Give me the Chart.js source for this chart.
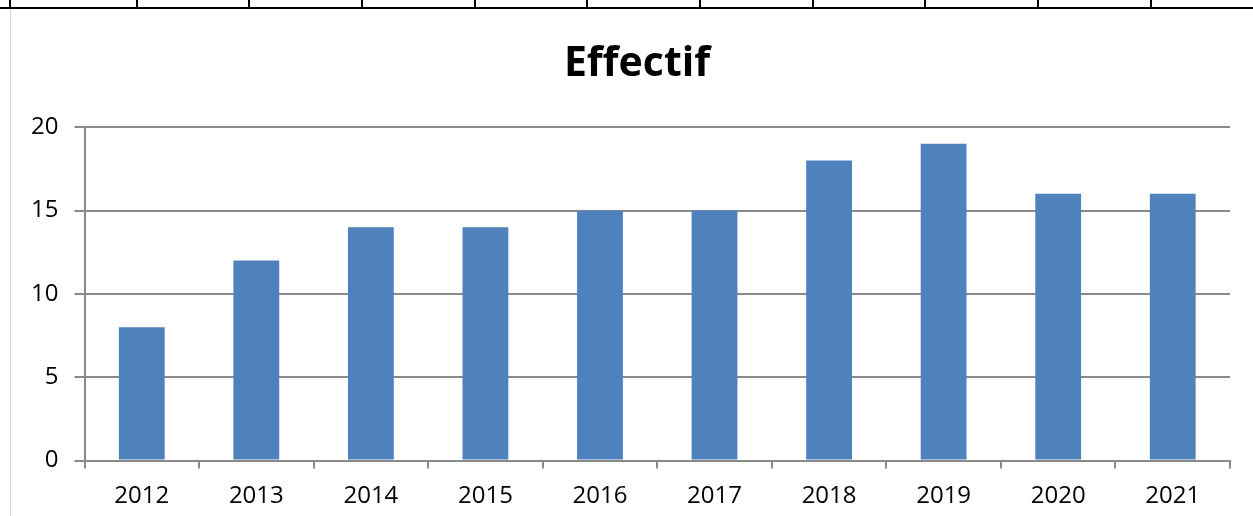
<!DOCTYPE html>
<html>
<head>
<meta charset="utf-8">
<script src="https://cdn.jsdelivr.net/npm/chart.js@4"></script>
<style>
  html, body { margin: 0; padding: 0; background: #fff; width: 1253px; height: 516px; overflow: hidden; }
  #sheet { position: absolute; left: 0; top: 0; width: 1253px; height: 9px; display: flex; }
  #sheet div { box-sizing: border-box; height: 9px; border-bottom: 2px solid #000; border-right: 2px solid #000; }
  #leftline { position: absolute; left: 10px; top: 9px; width: 1px; height: 507px; background: #d4d4d4; }
  #wrap { position: absolute; left: 0; top: 0; width: 1253px; height: 516px; }
</style>
</head>
<body>
<div id="sheet"></div>
<div id="leftline"></div>
<div id="wrap"><canvas id="c" width="1253" height="516"></canvas></div>
<script>
const categories = ["2012", "2013", "2014", "2015", "2016", "2017", "2018", "2019", "2020", "2021"];
const effectif = [8, 12, 14, 14, 15, 15, 18, 19, 16, 16];
const yTicks = [0, 5, 10, 15, 20];
const chartTitle = "Effectif";

// spreadsheet cell strip at the top (decoration)
const cellEdges = [0, 11, 138, 250, 363, 476, 588, 701, 814, 926, 1039, 1152, 1253];
const sheet = document.getElementById('sheet');
for (let i = 1; i < cellEdges.length; i++) {
  const d = document.createElement('div');
  d.style.width = (cellEdges[i] - cellEdges[i - 1]) + 'px';
  if (i === cellEdges.length - 1) d.style.borderRight = 'none';
  sheet.appendChild(d);
}

// shift the title box so that it is centred like the reference
const titleShift = {
  id: 'titleShift',
  afterLayout(chart) {
    const t = chart.titleBlock;
    if (t) { t.left = 44; t.right = chart.chartArea.right; t.width = t.right - t.left; }
  }
};

const gridColor = '#8a8a8a';
new Chart(document.getElementById('c'), {
  type: 'bar',
  data: {
    labels: categories,
    datasets: [{
      label: chartTitle,
      data: effectif,
      backgroundColor: '#4F81BD',
      borderWidth: 0,
      barPercentage: 0.4,
      categoryPercentage: 1.0
    }]
  },
  plugins: [titleShift],
  options: {
    responsive: false,
    devicePixelRatio: 1,
    animation: false,
    layout: { padding: { left: 0, right: 23, top: 0, bottom: 0 } },
    plugins: {
      legend: { display: false },
      tooltip: { enabled: false },
      title: {
        display: true,
        text: chartTitle,
        color: '#000',
        font: { family: 'Open Sans', size: 41, weight: 'bold', lineHeight: 1.2 },
        padding: { top: 40, bottom: 38 }
      }
    },
    scales: {
      x: {
        grid: { offset: true, drawOnChartArea: false, drawTicks: true, tickLength: 8, color: gridColor, lineWidth: 2 },
        border: { display: true, color: gridColor, width: 2 },
        ticks: { color: '#000', font: { family: 'Open Sans', size: 24 }, padding: 13, maxRotation: 0, autoSkip: false },
        afterFit: (s) => { s.height = 55.5; }
      },
      y: {
        min: 0,
        max: 20,
        afterBuildTicks: (s) => { s.ticks = yTicks.map(v => ({ value: v })); },
        grid: { drawOnChartArea: true, drawTicks: true, tickLength: 10, color: gridColor, lineWidth: 2 },
        border: { display: true, color: gridColor, width: 2 },
        ticks: { color: '#000', font: { family: 'Open Sans', size: 24 }, padding: 16 },
        afterFit: (s) => { s.width = 84.5; }
      }
    }
  }
});
</script>
</body>
</html>
